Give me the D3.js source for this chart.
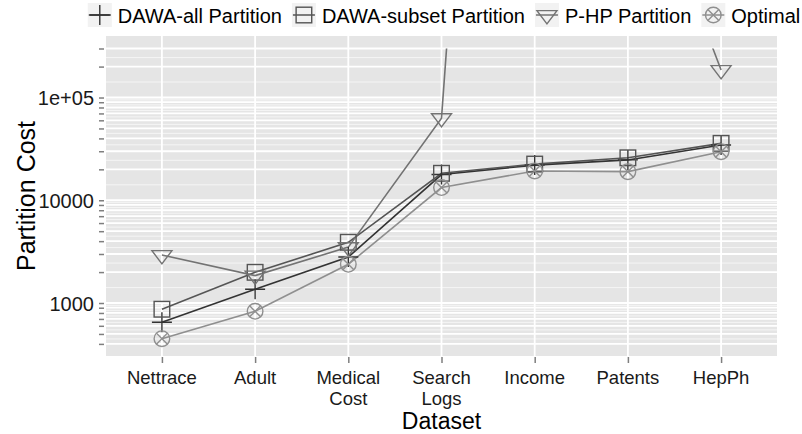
<!DOCTYPE html>
<html>
<head>
<meta charset="utf-8">
<script src="https://cdn.jsdelivr.net/npm/d3@7"></script>
<style>
  html, body { margin: 0; padding: 0; background: #ffffff; }
  svg { display: block; font-family: "Liberation Sans", Arial, Helvetica, sans-serif; }
</style>
</head>
<body>
<svg id="chart" width="802" height="434"></svg>
<script>
// Datasets on the x axis (line breaks split long names)
const categories = ["Nettrace", "Adult", "Medical\nCost", "Search\nLogs", "Income", "Patents", "HepPh"];

// Partition cost per dataset, one array per method
const dawaAll    = [650, 1360, 2800, 17800, 22000, 24700, 34500];
const dawaSubset = [870, 1990, 3900, 18300, 22500, 25900, 35800];
const phpCost    = [2930, 1850, 3500, 63000, 2e17, 4.6e7, 185000];
const optimal    = [450, 830, 2380, 13300, 19300, 19000, 29700];

const seriesNames = ["DAWA-all Partition", "DAWA-subset Partition", "P-HP Partition", "Optimal"];

// Labelled y ticks
const yTickValues = [1000, 10000, 100000];
const yTickLabels = ["1000", "10000", "1e+05"];

const seriesData = [dawaAll, dawaSubset, phpCost, optimal];
const colors = ["#333333", "#555555", "#737373", "#8f8f8f"];
const shapes = ["plus", "square", "triangleDown", "circleX"];

const svg = d3.select("#chart");
const panel = { left: 106, right: 777, top: 36, bottom: 356 };

// Discrete x positions with 0.6 unit padding on each side
const xIndex = d3.scaleLinear()
  .domain([-0.6, categories.length - 1 + 0.6])
  .range([panel.left, panel.right]);
const x = i => xIndex(i);

const y = d3.scaleLog()
  .domain([305, 397000])
  .range([panel.bottom, panel.top]);

// Breaks at every n * 10^k inside the domain
const [yMin, yMax] = y.domain();
const majorBreaks = [];
for (let k = 2; k <= 5; k++) {
  for (let n = 1; n <= 9; n++) {
    const v = n * Math.pow(10, k);
    if (v >= yMin && v <= yMax) majorBreaks.push(v);
  }
}
// Minor breaks halfway (in log space) between consecutive majors
const minorBreaks = [];
for (let i = 0; i < majorBreaks.length - 1; i++) {
  minorBreaks.push(Math.sqrt(majorBreaks[i] * majorBreaks[i + 1]));
}

// Panel background
svg.append("rect")
  .attr("x", panel.left).attr("y", panel.top)
  .attr("width", panel.right - panel.left)
  .attr("height", panel.bottom - panel.top)
  .attr("fill", "#e5e5e5");

const grid = svg.append("g");
grid.selectAll("line.minor").data(minorBreaks).join("line")
  .attr("class", "minor")
  .attr("x1", panel.left).attr("x2", panel.right)
  .attr("y1", d => y(d)).attr("y2", d => y(d))
  .attr("stroke", "#f5f5f5").attr("stroke-width", 1);
grid.selectAll("line.major").data(majorBreaks).join("line")
  .attr("class", "major")
  .attr("x1", panel.left).attr("x2", panel.right)
  .attr("y1", d => y(d)).attr("y2", d => y(d))
  .attr("stroke", "#ffffff").attr("stroke-width", 1.8);
grid.selectAll("line.vert").data(categories.map((c, i) => i)).join("line")
  .attr("class", "vert")
  .attr("x1", d => x(d)).attr("x2", d => x(d))
  .attr("y1", panel.top).attr("y2", panel.bottom)
  .attr("stroke", "#ffffff").attr("stroke-width", 1.8);

// Y axis: ticks at every break, labels only at powers of ten
const yAxis = d3.axisLeft(y)
  .tickValues(majorBreaks)
  .tickSize(5)
  .tickPadding(5)
  .tickFormat(d => {
    const idx = yTickValues.indexOf(d);
    return idx >= 0 ? yTickLabels[idx] : "";
  });
const gy = svg.append("g")
  .attr("transform", `translate(${panel.left - 2},0)`)
  .call(yAxis);
gy.select(".domain").remove();
gy.selectAll(".tick line").attr("stroke", "#7f7f7f").attr("stroke-width", 1.5);
gy.selectAll(".tick text")
  .attr("fill", "#1a1a1a")
  .style("font-size", "20px")
  .attr("dy", "0.36em");

// X axis
const xAxis = d3.axisBottom(xIndex)
  .tickValues(categories.map((c, i) => i))
  .tickSize(6)
  .tickFormat("");
const gx = svg.append("g")
  .attr("transform", `translate(0,${panel.bottom + 1})`)
  .call(xAxis);
gx.select(".domain").remove();
gx.selectAll(".tick line").attr("stroke", "#7f7f7f").attr("stroke-width", 1.5);

const xLabels = svg.append("g")
  .style("font-size", "18.5px")
  .attr("fill", "#1a1a1a")
  .attr("text-anchor", "middle");
categories.forEach((c, i) => {
  const t = xLabels.append("text").attr("x", x(i)).attr("y", 383.5);
  c.split("\n").forEach((line, j) => {
    t.append("tspan").attr("x", x(i)).attr("dy", j === 0 ? 0 : 21).text(line);
  });
});

// Axis titles
svg.append("text")
  .attr("x", (panel.left + panel.right) / 2)
  .attr("y", 429.3)
  .attr("text-anchor", "middle")
  .style("font-size", "23px")
  .attr("fill", "#000")
  .text("Dataset");
svg.append("text")
  .attr("transform", `translate(35,${(panel.top + panel.bottom) / 2}) rotate(-90)`)
  .attr("text-anchor", "middle")
  .style("font-size", "25px")
  .attr("fill", "#000")
  .text("Partition Cost");

// Symbol drawing
function drawShape(g, shape, color, s) {
  const sw = 1.4;
  if (shape === "plus") {
    g.append("path").attr("d", `M${-s},0H${s}M0,${-s}V${s}`)
      .attr("stroke", color).attr("stroke-width", sw).attr("fill", "none");
  } else if (shape === "square") {
    const h = s * 0.78;
    g.append("rect").attr("x", -h).attr("y", -h).attr("width", 2 * h).attr("height", 2 * h)
      .attr("stroke", color).attr("stroke-width", sw).attr("fill", "none");
  } else if (shape === "triangleDown") {
    const w = s * 1.0, h = s * 0.8;
    g.append("path").attr("d", `M${-w},${-h * 0.55}L${w},${-h * 0.55}L0,${h * 1.1}Z`)
      .attr("stroke", color).attr("stroke-width", sw).attr("fill", "none");
  } else if (shape === "circleX") {
    const r = s * 0.78, q = r * Math.SQRT1_2;
    g.append("circle").attr("r", r)
      .attr("stroke", color).attr("stroke-width", sw).attr("fill", "none");
    g.append("path").attr("d", `M${-q},${-q}L${q},${q}M${-q},${q}L${q},${-q}`)
      .attr("stroke", color).attr("stroke-width", sw).attr("fill", "none");
  }
}

// Lines are clipped at the top of the visible cost range
const lineCeiling = 3e5;
svg.append("clipPath").attr("id", "lineClip")
  .append("rect")
  .attr("x", panel.left).attr("y", y(lineCeiling))
  .attr("width", panel.right - panel.left)
  .attr("height", panel.bottom - y(lineCeiling));

const line = d3.line().x((d, i) => x(i)).y(d => y(d));
const linesG = svg.append("g").attr("clip-path", "url(#lineClip)");
seriesData.forEach((vals, s) => {
  linesG.append("path")
    .datum(vals)
    .attr("d", line)
    .attr("fill", "none")
    .attr("stroke", colors[s])
    .attr("stroke-width", 1.6);
});

const pointsG = svg.append("g");
seriesData.forEach((vals, s) => {
  vals.forEach((v, i) => {
    if (v > yMax) return;
    const g = pointsG.append("g").attr("transform", `translate(${x(i)},${y(v)})`);
    drawShape(g, shapes[s], colors[s], 10);
  });
});

// Legend across the top
const legend = svg.append("g");
const keySize = 24, keyGap = 6, itemGap = 10, legendY = 15;
let cursor = 0;
seriesNames.forEach((name, s) => {
  const item = legend.append("g");
  item.append("rect")
    .attr("x", 0).attr("y", legendY - keySize / 2)
    .attr("width", keySize).attr("height", keySize)
    .attr("fill", "#f2f2f2");
  item.append("line")
    .attr("x1", 1).attr("x2", keySize - 1)
    .attr("y1", legendY).attr("y2", legendY)
    .attr("stroke", colors[s]).attr("stroke-width", 1.5);
  const sym = item.append("g").attr("transform", `translate(${keySize / 2},${legendY})`);
  drawShape(sym, shapes[s], colors[s], 10);
  const txt = item.append("text")
    .attr("x", keySize + keyGap).attr("y", legendY + 8)
    .style("font-size", "20px")
    .attr("fill", "#000")
    .text(name);
  const w = txt.node().getComputedTextLength();
  item.attr("transform", `translate(${cursor},0)`);
  cursor += keySize + keyGap + w + itemGap;
});
const legendWidth = cursor - itemGap;
legend.attr("transform", `translate(${444 - legendWidth / 2},0)`);
</script>
</body>
</html>
